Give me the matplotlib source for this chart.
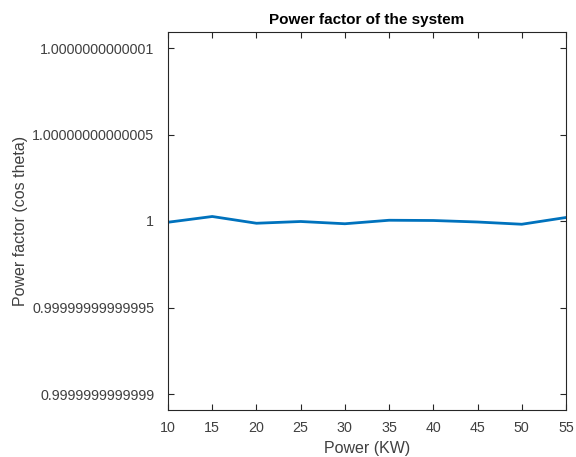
import numpy as np
import matplotlib.pyplot as plt

plt.rcParams['font.family'] = ['Liberation Sans', 'DejaVu Sans']

power_kw = [10, 15, 20, 25, 30, 35, 40, 45, 50, 55]
# deviation from 1, in units of 1e-15
dev_e15 = [-0.75, 2.7, -1.3, -0.2, -1.5, 0.4, 0.2, -0.6, -1.9, 1.9]
pf = [1.0 + d * 1e-15 for d in dev_e15]

ytick_vals = [1 - 1e-13, 1 - 5e-14, 1.0, 1 + 5e-14, 1 + 1e-13]
ytick_labels = ['0.9999999999999', '0.99999999999995', '1',
                '1.00000000000005', '1.0000000000001']
xticks = [10, 15, 20, 25, 30, 35, 40, 45, 50, 55]

fig = plt.figure(figsize=(5.76, 4.57), dpi=100)
ax = fig.add_axes([0.2917, 0.1028, 0.6909, 0.8272])
ax.plot(power_kw, pf, color='#0072BD', linewidth=2)

ax.set_xlim(10, 55)
ax.set_ylim(1 - 1.0925e-13, 1 + 1.0925e-13)
ax.set_xticks(xticks)
ax.set_yticks(ytick_vals)
ax.set_yticklabels(ytick_labels)

c = '#262626'
tc = '#404040'
for s in ax.spines.values():
    s.set_color(c)
    s.set_linewidth(0.8)
ax.tick_params(direction='in', top=True, right=True, color=c, labelcolor=tc,
               labelsize=10.3, length=4, width=0.8)
ax.tick_params(axis='x', pad=8)
ax.tick_params(axis='y', pad=10)
ax.set_xlabel('Power (KW)', fontsize=11.5, color=tc, labelpad=4)
ax.set_ylabel('Power factor (cos theta)', fontsize=11.5, color=tc, labelpad=3)
ax.set_title('Power factor of the system', fontsize=11, fontweight='bold', color='black')

fig.savefig('out.png', dpi=100)
